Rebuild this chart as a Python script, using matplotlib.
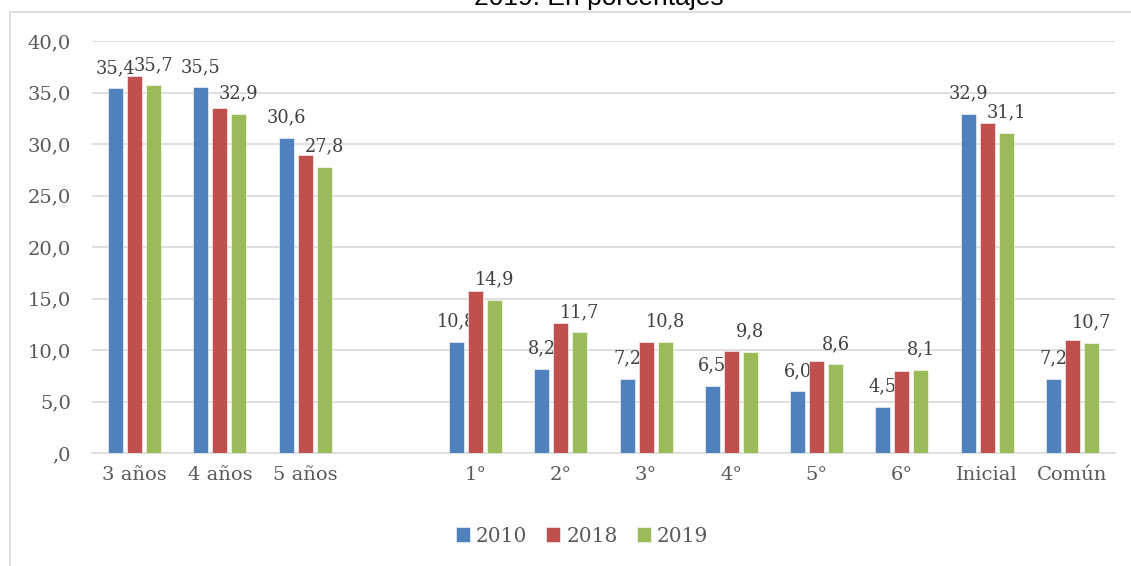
import matplotlib.pyplot as plt
import numpy as np
from matplotlib.patches import Rectangle

# categories (one empty slot between 5 años and 1°)
categories = ['3 años', '4 años', '5 años', '', '1°', '2°', '3°', '4°', '5°', '6°', 'Inicial', 'Común']
years = ['2010', '2018', '2019']
nan = np.nan
values2010 = [35.4, 35.5, 30.6, nan, 10.8, 8.2, 7.2, 6.5, 6.0, 4.5, 32.9, 7.2]
values2018 = [36.6, 33.5, 28.9, nan, 15.7, 12.6, 10.8, 9.9, 8.9, 8.0, 32.0, 11.0]
values2019 = [35.7, 32.9, 27.8, nan, 14.9, 11.7, 10.8, 9.8, 8.6, 8.1, 31.1, 10.7]
yTicks = [0, 5, 10, 15, 20, 25, 30, 35, 40]

colors = ['#4F81BD', '#C0504D', '#9BBB59']
textColor = '#595959'
gridColor = '#d9d9d9'
serif = 'DejaVu Serif'


def fmtComma(v):
    s = '%.1f' % v
    if s.startswith('0.'):
        s = s[1:]
    return s.replace('.', ',')


def addLabels(ax, xs, vals):
    for x, v in zip(xs, vals):
        if np.isnan(v):
            continue
        ax.annotate(fmtComma(v), (x, v), xytext=(0, 11), textcoords='offset points',
                    ha='center', va='baseline', fontsize=12.8, family=serif, color='#404040')


def run():
    fig = plt.figure(figsize=(11.31, 5.66), dpi=100)
    ax = fig.add_axes([92 / 1131, 1 - 453 / 566, (1115 - 92) / 1131, (453 - 41) / 566])

    # outer chart frame (only top and left edges visible)
    fig.patches.append(Rectangle((10 / 1131, -0.1), 1.0, 1 - 12 / 566 + 0.1, fill=False,
                                 edgecolor=gridColor, linewidth=1.2, transform=fig.transFigure))

    # title, cut off at the top of the image like in the source
    fig.text(599 / 1131, 1 - 5.5 / 566, '2019. En porcentajes', ha='center', va='baseline',
             fontsize=19, family='Liberation Sans', color='black')

    x = np.arange(len(categories))
    width = 0.176
    offset = 0.223
    series = [values2010, values2018, values2019]
    for i, (vals, year) in enumerate(zip(series, years)):
        xs = x + (i - 1) * offset
        ax.bar(xs, vals, width, color=colors[i], label=year, zorder=3,
               edgecolor='white', linewidth=0.4)
        if year != '2018':
            addLabels(ax, xs, vals)

    ax.set_xlim(-0.5, len(categories) - 0.5)
    ax.set_ylim(0, 40)
    ax.set_yticks(yTicks)
    ax.set_yticklabels([fmtComma(v) for v in yTicks], fontsize=14, family=serif, color=textColor)
    ax.set_xticks(x)
    ax.set_xticklabels(categories, fontsize=14, family=serif, color=textColor)
    ax.tick_params(axis='y', length=0, pad=15)
    ax.tick_params(axis='x', length=0, pad=9)

    ax.grid(axis='y', color=gridColor, linewidth=1.2, zorder=0)
    for side in ['top', 'right', 'left']:
        ax.spines[side].set_visible(False)
    ax.spines['bottom'].set_color(gridColor)
    ax.spines['bottom'].set_linewidth(1.2)

    leg = fig.legend(loc='center', bbox_to_anchor=(582 / 1131, 1 - 536 / 566), ncol=3, frameon=False,
                     prop={'family': serif, 'size': 14.5}, handlelength=0.7, handleheight=0.7,
                     handletextpad=0.3, columnspacing=0.95, borderaxespad=0)
    for t in leg.get_texts():
        t.set_color(textColor)

    fig.savefig('out.png', dpi=100)


run()
